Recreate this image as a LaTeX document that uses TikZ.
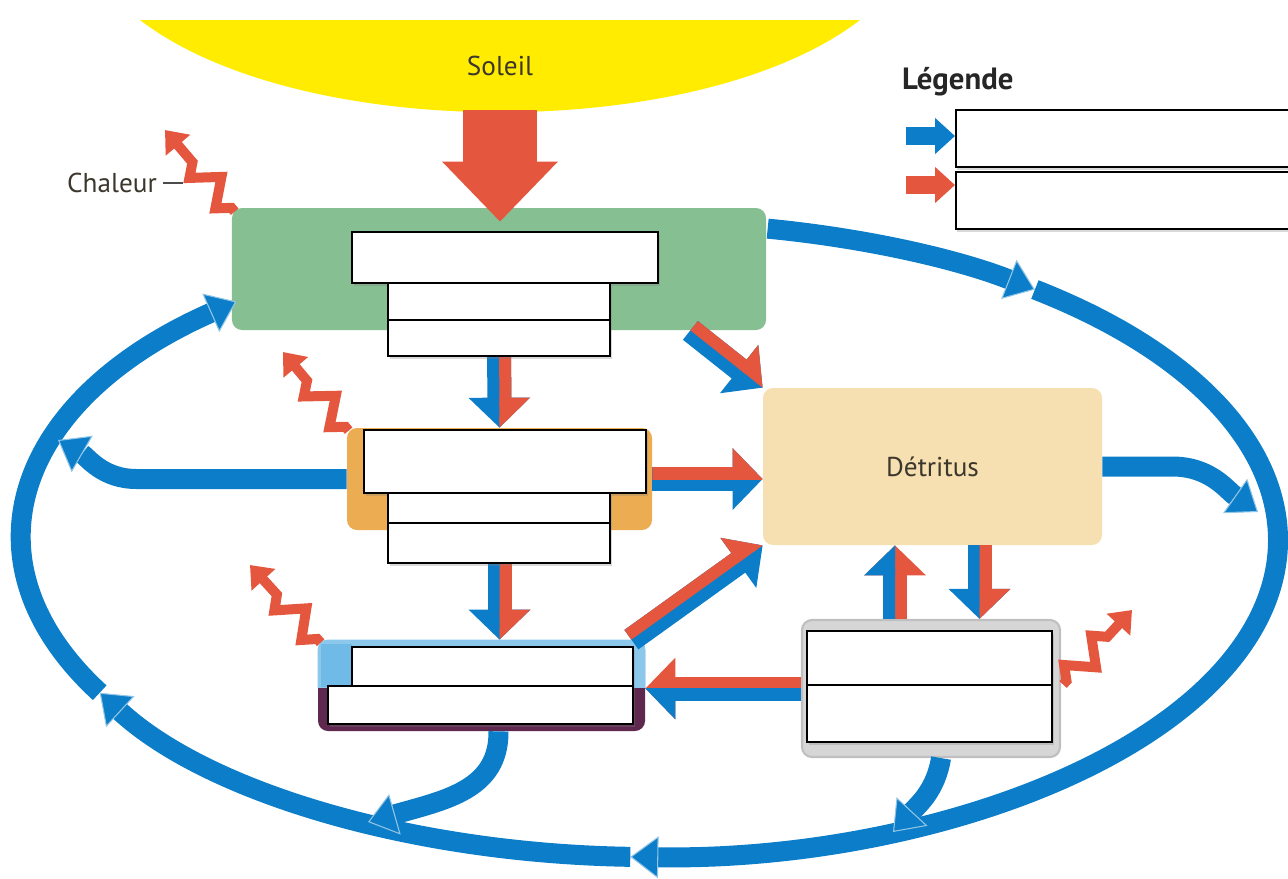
\documentclass[tikz,border=0pt]{standalone}
\usepackage{fontspec}
\setmainfont{PT Sans}
\usetikzlibrary{calc,arrows.meta,decorations.pathmorphing,shadows}
\definecolor{flowBlue}{RGB}{12,125,200}
\definecolor{flowRed}{RGB}{229,86,62}
\definecolor{sunYellow}{RGB}{255,236,0}
\definecolor{prodGreen}{RGB}{134,192,146}
\definecolor{herbOrange}{RGB}{236,172,82}
\definecolor{bandBlue}{RGB}{140,200,235}
\definecolor{bandBlueDark}{RGB}{112,186,232}
\definecolor{carnPlum}{RGB}{95,40,78}
\definecolor{detBeige}{RGB}{246,223,176}
\definecolor{decGray}{RGB}{214,214,214}
\definecolor{labelInk}{RGB}{60,55,45}
\tikzset{
  tier/.style={inner sep=0pt, rounded corners=2mm},
  slot/.style={draw=black, line width=1pt, fill=white, inner sep=0pt,
    drop shadow={shadow xshift=0.3mm, shadow yshift=-0.6mm, opacity=0.3}},
  flow/.style={flowBlue, line width=4mm,
    -{Triangle[length=5.6mm,width=8.4mm,fill=flowBlue,color=white!55!flowBlue,line width=0.6pt]}},
  duo/.style={line width=4.8mm, -{Triangle[length=6mm,width=12mm]}},
  heatwave/.style={flowRed, line width=2mm, line join=miter, decorate,
    decoration={zigzag, segment length=8mm, amplitude=2.5mm, pre length=1mm, post length=4.5mm},
    -{Triangle[length=4mm,width=6.2mm]}},
  txt/.style={font=\fontsize{15.5}{18}\selectfont, text=labelInk}
}
% start, tip, colour on the left, colour on the right
\newcommand{\duoarrow}[4]{%
  \draw[duo,#4] (#1) -- (#2);
  \begin{scope}
    \clip ($(#1)!1.5cm!90:(#2)$) -- (#1) -- (#2) -- ($(#2)!1.5cm!-90:(#1)$) -- cycle;
    \draw[duo,#3] (#1) -- (#2);
  \end{scope}}

\begin{document}
\begin{tikzpicture}[x=0.2mm,y=-0.2mm]
\useasboundingbox (0,0) rectangle (1288,878);

% sun
\fill[sunYellow] (140,20) .. controls (300,143) and (700,143) .. (860,20) -- cycle;
\node[txt] (sun) at (500,66) {Soleil};

% levels
\node[tier,fill=prodGreen,minimum width=106.8mm,minimum height=24.4mm] (prod) at (499,269) {};
\node[tier,fill=herbOrange,minimum width=61mm,minimum height=20.4mm] (herb) at (499.5,479) {};
\node[tier,fill=carnPlum,minimum width=65.4mm,minimum height=18.2mm] (carn) at (481.5,685.5) {};
\begin{scope}
  \clip (300,620) rectangle (660,687);
  \fill[bandBlue,rounded corners=2mm] (carn.north west) rectangle (carn.south east);
\end{scope}
\fill[bandBlueDark] (321,644) rectangle (352,687);
\node[tier,fill=detBeige,minimum width=67.8mm,minimum height=31.4mm,txt] (det) at (932.5,466.5) {Détritus};
\node[tier,fill=decGray,draw=black!25,line width=1.2pt,minimum width=51.6mm,minimum height=27.4mm] (dec) at (931,688.5) {};

% big loop
\coordinate (lpc) at (650,540);
\foreach \a/\b in {-79.2/-52.2, -52.2/91.8, 91.8/151.2, 151.2/228.8}
  \draw[flow] (lpc) ++({628*cos(\a)},{317*sin(\a)}) arc[start angle=\a, end angle=\b, x radius=628, y radius=317];

% into the loop
\coordinate (tipR) at (1258,512);
\coordinate (tipL) at (58,440);
\coordinate (tipBL) at (368,822);
\coordinate (tipBR) at (893,832);
\draw[flow] (det.east) -- ++(70,0) to[out=0,in=145] (tipR);
\draw[flow] (herb.west) -- ++(-210,0) to[out=180,in=-30] (tipL);
\draw[flow] ($(carn.south)+(17,0)$) .. controls (499,790) and (445,800) .. (tipBL);
\draw[flow] ($(dec.south)+(10,0)$) .. controls (936,790) and (918,805) .. (tipBR);

% matter and energy
\coordinate (a1) at (prod.south);  \coordinate (a1t) at (herb.north);
\coordinate (a2) at (herb.south);  \coordinate (a2t) at (herb.south |- carn.north);
\coordinate (a3) at ($(prod.south east)+(-76,0)$);  \coordinate (a3t) at (det.north west);
\coordinate (a4) at (herb.east);  \coordinate (a4t) at (herb.east -| det.west);
\coordinate (a5) at ($(carn.north east)+(-14,0)$);  \coordinate (a5t) at (det.south west);
\coordinate (a6) at (dec.west);  \coordinate (a6t) at (dec.west -| carn.east);
\coordinate (a7) at ($(dec.north)+(-36,0)$);  \coordinate (a7t) at (a7 |- det.south);
\coordinate (a8) at ($(det.south)+(47,0)$);  \coordinate (a8t) at (a8 |- dec.north);
\duoarrow{a1}{a1t}{flowRed}{flowBlue}
\duoarrow{a2}{a2t}{flowRed}{flowBlue}
\duoarrow{a3}{a3t}{flowRed}{flowBlue}
\duoarrow{a4}{a4t}{flowRed}{flowBlue}
\duoarrow{a5}{a5t}{flowRed}{flowBlue}
\duoarrow{a6}{a6t}{flowBlue}{flowRed}
\duoarrow{a7}{a7t}{flowBlue}{flowRed}
\duoarrow{a8}{a8t}{flowRed}{flowBlue}

% sunlight
\coordinate (sunlow) at (500,110);
\draw[flowRed,line width=14.8mm,-{Triangle[length=12mm,width=22.4mm]}] (sunlow) -- ($(prod.north)+(1,14)$);

% heat
\coordinate (h1) at (165,130);
\coordinate (h2) at (283,352);
\coordinate (h3) at (250,565);
\coordinate (h4) at (1132,610);
\draw[heatwave] ($(prod.north west)+(3,4)$) -- (h1);
\draw[heatwave] ($(herb.north west)+(2,3)$) -- (h2);
\draw[heatwave] ($(carn.north west)+(3,3)$) -- (h3);
\draw[heatwave] ($(dec.east)+(2,-4)$) -- (h4);
\node[txt,anchor=east] (heat) at (163,183) {Chaleur};
\draw[black!70,line width=0.8pt] (heat.east) -- ++(20,0);

% empty boxes
\node[slot,minimum width=61.2mm,minimum height=10.2mm] (g1) at (505,257.5) {};
\node[slot,minimum width=44.4mm,minimum height=7.4mm] (g2) at (499,301.5) {};
\node[slot,minimum width=44.4mm,minimum height=7.2mm] (g3) at (499,338) {};
\node[slot,minimum width=56.4mm,minimum height=12.6mm] (o1) at (505,461.5) {};
\node[slot,minimum width=44.4mm,minimum height=6mm] (o2) at (499,508) {};
\node[slot,minimum width=44.4mm,minimum height=8mm] (o3) at (499,543) {};
\node[slot,minimum width=56.2mm,minimum height=7.8mm] (b1) at (492.5,666.5) {};
\node[slot,minimum width=61mm,minimum height=7.6mm] (b2) at (480.5,705) {};
\node[slot,minimum width=49mm,minimum height=10.8mm] (d1) at (929.5,658) {};
\node[slot,minimum width=49mm,minimum height=11.4mm] (d2) at (929.5,713.5) {};

% legend
\node[anchor=west,font=\fontsize{17.5}{20}\selectfont\bfseries,text=black!85] (legtitle) at (896,82) {Légende};
\node[slot,minimum width=70mm,minimum height=11.4mm,anchor=north west] (leg1) at (955,109) {};
\node[slot,minimum width=70mm,minimum height=11.4mm,anchor=north west] (leg2) at (955,171) {};
\coordinate (lb) at (906,136);
\coordinate (lr) at (906,185);
\draw[flowBlue,line width=3.6mm,-{Triangle[length=4mm,width=7mm]}] (lb) -- (lb -| leg1.west);
\draw[flowRed,line width=3.6mm,-{Triangle[length=4mm,width=7mm]}] (lr) -- (lr -| leg2.west);
\end{tikzpicture}
\end{document}
